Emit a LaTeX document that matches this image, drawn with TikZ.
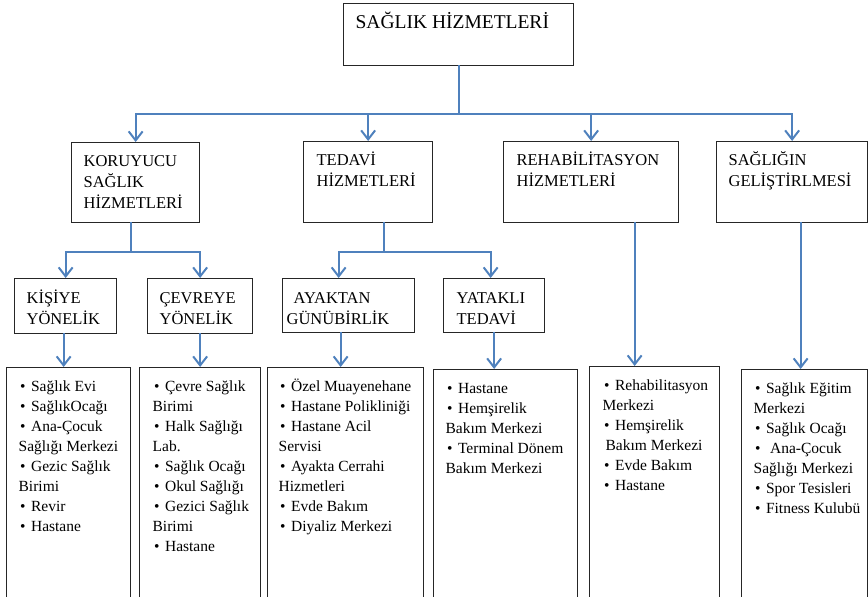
\documentclass[tikz,border=0pt]{standalone}
\usepackage{fontspec}
\setmainfont{Liberation Serif}
\usetikzlibrary{arrows.meta}
\definecolor{linkblue}{RGB}{79,129,189}
\newcommand{\bul}{\hspace*{1.5pt}•\hspace{5.5pt}}
\newcommand{\boxtxt}[3]{\parbox[t][#2][t]{#1}{\begin{tabular}[t]{@{}l@{}}#3\end{tabular}}}
\begin{document}
\begin{tikzpicture}[x=1pt,y=-1pt,
  box/.style={draw=black!85,line width=1.3pt,anchor=north west},
  topbox/.style={box,inner xsep=12pt,inner ysep=8.2pt,font=\fontsize{19.5}{24}\selectfont},
  mainbox/.style={box,inner ysep=9pt,font=\fontsize{16.5}{21}\selectfont},
  subbox/.style={box,inner ysep=10.3pt,font=\fontsize{16.5}{21}\selectfont},
  listbox/.style={box,inner ysep=10pt,font=\fontsize{15.5}{20}\selectfont},
  link/.style={draw=linkblue,line width=2pt,line cap=rect},
  arr/.style={link,-{Straight Barb[length=9pt,width=14pt]}}]
\useasboundingbox (0,0) rectangle (868,597);

\node[topbox] (sag) at (343,3) {\boxtxt{206pt}{45.6pt}{SAĞLIK HİZMETLERİ}};

\node[mainbox,inner xsep=12pt] (kor) at (71,142) {\boxtxt{104pt}{62pt}{KORUYUCU\\SAĞLIK\\HİZMETLERİ}};
\node[mainbox,inner xsep=13pt] (ted) at (303,141) {\boxtxt{103pt}{63pt}{TEDAVİ\\HİZMETLERİ}};
\node[mainbox,inner xsep=13pt] (reh) at (503,141) {\boxtxt{149pt}{63pt}{REHABİLİTASYON\\HİZMETLERİ}};
\node[mainbox,inner xsep=12pt] (gel) at (716,141) {\boxtxt{127pt}{63pt}{SAĞLIĞIN\\GELİŞTİRLMESİ}};

\node[subbox,inner xsep=12pt] (kis) at (14,278) {\boxtxt{78pt}{34.4pt}{KİŞİYE\\YÖNELİK}};
\node[subbox,inner xsep=12pt] (cev) at (147,278) {\boxtxt{81pt}{34.4pt}{ÇEVREYE\\YÖNELİK}};
\node[subbox,inner xsep=4pt] (aya) at (282,278) {\boxtxt{124pt}{33.4pt}{\hspace*{7pt}AYAKTAN\\GÜNÜBİRLİK}};
\node[subbox,inner xsep=13pt] (yat) at (443,278) {\boxtxt{75pt}{33.4pt}{YATAKLI\\TEDAVİ}};

\node[listbox,inner xsep=12pt] (kisl) at (6,367) {\boxtxt{100pt}{213pt}{\bul Sağlık Evi\\\bul SağlıkOcağı\\\bul Ana-Çocuk\\Sağlığı Merkezi\\\bul Gezic Sağlık\\Birimi\\\bul Revir\\\bul Hastane}};
\node[listbox,inner xsep=13pt] (cevl) at (139,367) {\boxtxt{95pt}{213pt}{\bul Çevre Sağlık\\Birimi\\\bul Halk Sağlığı\\Lab.\\\bul Sağlık Ocağı\\\bul Okul Sağlığı\\\bul Gezici Sağlık\\Birimi\\\bul Hastane}};
\node[listbox,inner xsep=11pt] (ayal) at (267,367) {\boxtxt{134pt}{213pt}{\bul Özel Muayenehane\\\bul Hastane Polikliniği\\\bul Hastane Acil\\Servisi\\\bul Ayakta Cerrahi\\Hizmetleri\\\bul Evde Bakım\\\bul Diyaliz Merkezi}};
\node[listbox,inner xsep=12pt] (yatl) at (433,369) {\boxtxt{120pt}{211pt}{\bul Hastane\\\bul Hemşirelik\\Bakım Merkezi\\\bul Terminal Dönem\\Bakım Merkezi}};
\node[listbox,inner xsep=13pt] (rehl) at (589,366) {\boxtxt{104pt}{214pt}{\bul Rehabilitasyon\\Merkezi\\\bul Hemşirelik\\\hspace*{3pt}Bakım Merkezi\\\bul Evde Bakım\\\bul Hastane}};
\node[listbox,inner xsep=12pt] (gell) at (741,369) {\boxtxt{102pt}{211pt}{\bul Sağlık Eğitim\\Merkezi\\\bul Sağlık Ocağı\\\bul\hspace{4pt}Ana-Çocuk\\Sağlığı Merkezi\\\bul Spor Tesisleri\\\bul Fitness Kulubü}};

\draw[link] (sag.south) -- ++(0,48) coordinate (t0);
\draw[link] (kor.north |- t0) -- (gel.north |- t0);
\foreach \n in {kor,ted,reh,gel}
  \draw[arr] (\n.north |- t0) -- (\n.north);

\draw[link] ([xshift=-5pt]kor.south) -- ++(0,29) coordinate (k0);
\draw[link] (kis.north |- k0) -- (cev.north |- k0);
\draw[arr] (kis.north |- k0) -- (kis.north);
\draw[arr] (cev.north |- k0) -- (cev.north);

\coordinate (a1) at ([xshift=-10pt]aya.north);
\coordinate (y1) at ([xshift=-3.5pt]yat.north);
\draw[link] ([xshift=15.5pt]ted.south) -- ++(0,29) coordinate (d0);
\draw[link] (a1 |- d0) -- (y1 |- d0);
\draw[arr] (a1 |- d0) -- (a1);
\draw[arr] (y1 |- d0) -- (y1);

\coordinate (k1) at ([xshift=-2pt]kis.south);
\coordinate (a2) at ([xshift=-8pt]aya.south);
\coordinate (r1) at ([xshift=43.5pt]reh.south);
\coordinate (g1) at ([xshift=8.5pt]gel.south);
\draw[arr] (k1) -- (k1 |- kisl.north);
\draw[arr] (cev.south) -- (cev.south |- cevl.north);
\draw[arr] (a2) -- (a2 |- ayal.north);
\draw[arr] (yat.south) -- (yat.south |- yatl.north);
\draw[arr] (r1) -- (r1 |- rehl.north);
\draw[arr] (g1) -- (g1 |- gell.north);
\end{tikzpicture}
\end{document}
